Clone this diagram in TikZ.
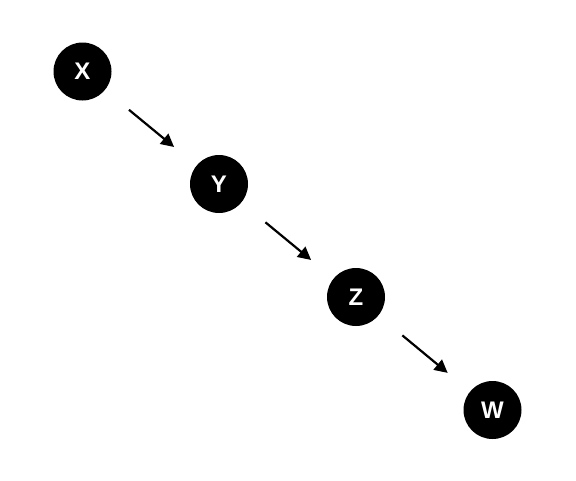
\documentclass[tikz,border=0pt]{standalone}
\usepackage{fontspec}
\setmainfont{Liberation Sans}
\usetikzlibrary{arrows.meta}
\begin{document}
\begin{tikzpicture}[x=1pt,y=-1pt,
  var/.style={circle,fill=black,minimum size=58pt,inner sep=0pt,text=white,font=\bfseries\fontsize{24}{24}\selectfont},
  edge/.style={line width=2.2pt,-{Triangle[length=13pt,width=13pt]},shorten <=31pt,shorten >=29pt}]
\useasboundingbox (0,0) rectangle (576,480);
\node[var] (x) at (82.5,71.5) {X};
\node[var] (y) at (219,184) {Y};
\node[var] (z) at (356,297) {Z};
\node[var] (w) at (492.5,410) {W};
\draw[edge] (x) -- (y);
\draw[edge] (y) -- (z);
\draw[edge] (z) -- (w);
\end{tikzpicture}
\end{document}
